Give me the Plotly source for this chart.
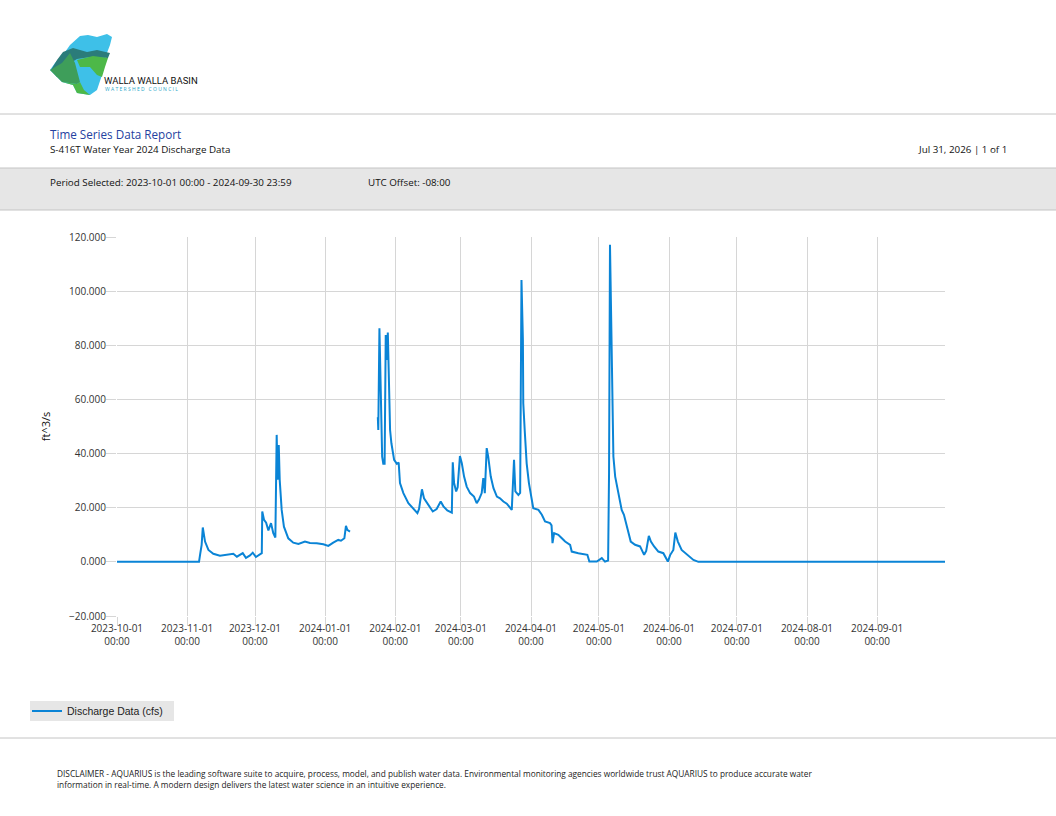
import pandas as pd
import plotly.graph_objects as go

# discharge series (ft^3/s); None marks the data gap
times = [
    "2023-10-01 00:00", "2023-11-06 06:00", "2023-11-06 17:00", "2023-11-07 10:00",
    "2023-11-07 22:00", "2023-11-08 22:00", "2023-11-10 10:00", "2023-11-12 14:00",
    "2023-11-15 12:00", "2023-11-18 05:00", "2023-11-21 10:00", "2023-11-23 00:00",
    "2023-11-25 14:00", "2023-11-27 00:00", "2023-11-28 19:00", "2023-11-30 00:00",
    "2023-12-01 10:00", "2023-12-04 00:00", "2023-12-04 05:00", "2023-12-05 00:00",
    "2023-12-05 22:00", "2023-12-06 22:00", "2023-12-08 02:00", "2023-12-09 02:00",
    "2023-12-10 00:00", "2023-12-10 14:00", "2023-12-11 00:00", "2023-12-11 12:00",
    "2023-12-11 22:00", "2023-12-12 19:00", "2023-12-13 19:00", "2023-12-15 17:00",
    "2023-12-17 22:00", "2023-12-20 05:00", "2023-12-23 02:00", "2023-12-25 07:00",
    "2023-12-28 07:00", "2023-12-31 05:00", "2024-01-02 10:00", "2024-01-04 14:00",
    "2024-01-06 19:00", "2024-01-08 00:00", "2024-01-09 12:00", "2024-01-10 05:00",
    "2024-01-10 19:00", "2024-01-12 00:00", "2024-01-18 00:00",
    "2024-01-24 07:00", "2024-01-24 12:00", "2024-01-25 00:00", "2024-01-25 14:00",
    "2024-01-26 05:00", "2024-01-26 17:00", "2024-01-27 07:00", "2024-01-27 19:00",
    "2024-01-28 05:00", "2024-01-28 17:00", "2024-01-29 00:00", "2024-01-29 10:00",
    "2024-01-29 17:00", "2024-01-30 07:00", "2024-01-31 12:00", "2024-02-01 17:00",
    "2024-02-02 12:00", "2024-02-03 02:00", "2024-02-04 14:00", "2024-02-06 19:00",
    "2024-02-09 00:00", "2024-02-10 19:00", "2024-02-11 12:00", "2024-02-12 19:00",
    "2024-02-13 17:00", "2024-02-15 14:00", "2024-02-17 14:00", "2024-02-19 07:00",
    "2024-02-21 02:00", "2024-02-22 07:00", "2024-02-24 00:00", "2024-02-26 00:00",
    "2024-02-26 10:00", "2024-02-27 00:00", "2024-02-27 22:00", "2024-02-28 14:00",
    "2024-02-29 14:00", "2024-03-01 10:00", "2024-03-02 10:00", "2024-03-03 14:00",
    "2024-03-05 02:00", "2024-03-06 19:00", "2024-03-08 00:00", "2024-03-09 00:00",
    "2024-03-10 05:00", "2024-03-10 22:00", "2024-03-11 14:00", "2024-03-12 10:00",
    "2024-03-13 02:00", "2024-03-14 05:00", "2024-03-15 10:00", "2024-03-16 22:00",
    "2024-03-18 07:00", "2024-03-19 19:00", "2024-03-21 07:00", "2024-03-23 12:00",
    "2024-03-24 12:00", "2024-03-25 02:00", "2024-03-26 10:00", "2024-03-27 05:00",
    "2024-03-27 19:00", "2024-03-28 10:00", "2024-03-28 14:00", "2024-03-29 05:00",
    "2024-03-30 02:00", "2024-03-31 02:00", "2024-04-01 07:00", "2024-04-02 00:00",
    "2024-04-04 07:00", "2024-04-05 19:00", "2024-04-07 05:00", "2024-04-09 10:00",
    "2024-04-10 02:00", "2024-04-10 12:00", "2024-04-11 05:00", "2024-04-13 02:00",
    "2024-04-14 07:00", "2024-04-16 02:00", "2024-04-18 07:00", "2024-04-19 00:00",
    "2024-04-21 22:00", "2024-04-25 22:00", "2024-04-26 19:00", "2024-04-30 02:00",
    "2024-05-02 07:00", "2024-05-03 17:00", "2024-05-05 02:00", "2024-05-05 12:00",
    "2024-05-05 22:00", "2024-05-06 10:00", "2024-05-06 17:00", "2024-05-07 00:00",
    "2024-05-07 10:00", "2024-05-08 05:00", "2024-05-09 14:00", "2024-05-11 02:00",
    "2024-05-12 02:00", "2024-05-13 07:00", "2024-05-15 02:00", "2024-05-17 00:00",
    "2024-05-19 05:00", "2024-05-21 00:00", "2024-05-21 22:00", "2024-05-23 02:00",
    "2024-05-24 00:00", "2024-05-25 10:00", "2024-05-27 07:00", "2024-05-29 12:00",
    "2024-05-31 12:00", "2024-06-01 12:00", "2024-06-02 22:00", "2024-06-03 19:00",
    "2024-06-04 22:00", "2024-06-06 14:00", "2024-06-08 22:00", "2024-06-11 19:00",
    "2024-06-14 00:00", "2024-09-30 23:59",
]
discharge = [
    0.0, 0.0, 2.6, 6.3,
    12.7, 7.5, 4.4, 3.0,
    2.3, 2.6, 3.0, 1.9,
    3.2, 1.5, 2.4, 3.4,
    1.8, 3.2, 18.6, 15.5,
    14.5, 11.6, 14.3, 10.6,
    9.0, 46.9, 30.3, 43.2,
    30.3, 19.2, 13.0, 8.7,
    7.1, 6.6, 7.5, 7.0,
    6.9, 6.5, 5.9, 7.1,
    8.1, 7.8, 8.7, 13.3,
    11.8, 11.2, None,
    53.4, 48.7, 86.3, 56.1,
    38.9, 36.2, 36.2, 83.8,
    74.6, 84.7, 74.0, 63.5,
    48.7, 43.8, 37.7, 36.2,
    36.7, 29.1, 25.4, 21.7,
    19.8, 18.0, 19.5, 26.8,
    23.5, 21.0, 18.6, 19.5,
    22.3, 20.5, 19.0, 18.2,
    36.8, 29.1, 26.0, 27.5,
    39.1, 36.4, 31.5, 27.8,
    25.4, 24.1, 21.7, 23.0,
    25.4, 30.9, 25.4, 42.0,
    38.9, 31.5, 27.2, 24.1,
    23.5, 22.3, 21.5, 19.2,
    37.7, 26.0, 24.7, 25.5,
    104.1, 82.0, 58.6, 48.7,
    36.4, 29.1, 24.1, 19.8,
    19.2, 17.4, 14.9, 14.3,
    13.5, 6.9, 10.6, 10.0,
    9.0, 7.5, 6.3, 3.8,
    3.2, 2.6, 0.1, 0.1,
    1.4, 0.1, 0.5, 32.8,
    117.1, 91.8, 69.7, 51.2,
    38.9, 31.5, 25.4, 19.2,
    17.4, 13.0, 7.5, 6.3,
    5.7, 2.6, 4.0, 9.6,
    7.5, 5.7, 3.8, 3.2,
    0.1, 2.5, 4.4, 10.8,
    7.5, 4.4, 2.6, 0.7,
    0.0, 0.0,
]

x_ticks = [
    "2023-10-01", "2023-11-01", "2023-12-01", "2024-01-01", "2024-02-01", "2024-03-01",
    "2024-04-01", "2024-05-01", "2024-06-01", "2024-07-01", "2024-08-01", "2024-09-01",
]
y_ticks = [-20, 0, 20, 40, 60, 80, 100, 120]

# plot area in page pixels, used to place the report furniture
L, R, T, B = 117, 945, 237, 616
W, H = 1056, 816


def px(x):
    return (x - L) / (R - L)


def py(y):
    return (B - y) / (B - T)


def path(points):
    s = "M " + " L ".join(f"{px(x):.5f},{py(y):.5f}" for x, y in points)
    return s + " Z"


fig = go.Figure(
    go.Scatter(
        x=pd.to_datetime(times),
        y=discharge,
        mode="lines",
        name="Discharge Data (cfs)",
        line=dict(color="#0A84D6", width=2),
        connectgaps=False,
    )
)

shapes = []
# header separators and grey band
shapes.append(dict(type="line", xref="paper", yref="paper", x0=px(0), x1=px(W),
                   y0=py(114), y1=py(114), line=dict(color="#C4C4C4", width=1)))
shapes.append(dict(type="rect", xref="paper", yref="paper", x0=px(0), x1=px(W),
                   y0=py(210), y1=py(168), fillcolor="#E6E6E6",
                   line=dict(width=0), layer="below"))
for yy in (168, 210):
    shapes.append(dict(type="line", xref="paper", yref="paper", x0=px(0), x1=px(W),
                       y0=py(yy), y1=py(yy), line=dict(color="#C4C4C4", width=1)))
shapes.append(dict(type="line", xref="paper", yref="paper", x0=px(0), x1=px(W),
                   y0=py(738), y1=py(738), line=dict(color="#C4C4C4", width=1)))
# legend box
shapes.append(dict(type="rect", xref="paper", yref="paper", x0=px(30), x1=px(174),
                   y0=py(721), y1=py(701), fillcolor="#E6E6E6",
                   line=dict(width=0), layer="below"))

# rough logo
logo = [
    ("#3EC0E8", [(80, 36), (88, 35), (97, 37), (107, 34), (112, 37), (110, 45), (105, 58),
                 (102, 75), (97, 90), (90, 95), (77, 93), (73, 85), (62, 82), (50, 70),
                 (55, 63), (63, 55), (70, 45)]),
    ("#2B7C7A", [(63, 52), (73, 48), (87, 52), (97, 50), (110, 53), (108, 58), (90, 57),
                 (77, 59), (67, 65), (57, 77), (51, 70), (57, 60)]),
    ("#4DB848", [(77, 60), (93, 56), (108, 58), (105, 67), (102, 77), (97, 75), (90, 67),
                 (80, 67)]),
    ("#3E9E5A", [(50, 70), (62, 63), (70, 53), (75, 63), (80, 82), (77, 84), (62, 82)]),
    ("#4DB848", [(62, 82), (77, 84), (80, 82), (84, 90), (90, 95), (77, 93), (73, 85)]),
]
for colour, pts in logo:
    shapes.append(dict(type="path", xref="paper", yref="paper", path=path(pts),
                       fillcolor=colour, line=dict(width=0)))

base_font = "Open Sans, Noto Sans, sans-serif"
annotations = [
    dict(text="WALLA WALLA BASIN", x=px(102), y=py(80), xanchor="left",
         font=dict(family="Liberation Sans Narrow, Roboto, sans-serif", size=9.5, color="#111111")),
    dict(text="W A T E R S H E D   C O U N C I L", x=px(103), y=py(89), xanchor="left",
         font=dict(family=base_font, size=5, color="#2AA7C9")),
    dict(text="Time Series Data Report", x=px(48), y=py(134), xanchor="left",
         font=dict(family=base_font, size=11.7, color="#2541A0")),
    dict(text="S-416T Water Year 2024 Discharge Data", x=px(48), y=py(149), xanchor="left",
         font=dict(family=base_font, size=9.8, color="#111111")),
    dict(text="Jul 31, 2026 | 1 of 1", x=px(1009), y=py(149), xanchor="right",
         font=dict(family=base_font, size=9.8, color="#111111")),
    dict(text="Period Selected: 2023-10-01 00:00 - 2024-09-30 23:59", x=px(48), y=py(182),
         xanchor="left", font=dict(family=base_font, size=9.8, color="#111111")),
    dict(text="UTC Offset: -08:00", x=px(366), y=py(182), xanchor="left",
         font=dict(family=base_font, size=9.8, color="#111111")),
    dict(text="DISCLAIMER - AQUARIUS is the leading software suite to acquire, process, model, "
              "and publish water data. Environmental monitoring agencies worldwide trust AQUARIUS "
              "to produce accurate water<br>information in real-time. A modern design delivers "
              "the latest water science in an intuitive experience.",
         x=px(55), y=py(779), xanchor="left", align="left",
         font=dict(family=base_font, size=8.3, color="#222222")),
]
for a in annotations:
    a.update(xref="paper", yref="paper", yanchor="middle", showarrow=False)

fig.update_layout(
    width=W,
    height=H,
    autosize=False,
    margin=dict(l=L, r=W - R, t=T, b=H - B, pad=0),
    paper_bgcolor="white",
    plot_bgcolor="white",
    font=dict(family=base_font, size=10, color="#333333"),
    showlegend=True,
    legend=dict(
        x=px(27), y=py(711), xanchor="left", yanchor="middle",
        bgcolor="rgba(0,0,0,0)",
        font=dict(family="Liberation Sans, Arial, sans-serif", size=10.5, color="#222222"),
    ),
    shapes=shapes,
    annotations=annotations,
)

fig.update_xaxes(
    type="date",
    range=["2023-10-01 00:00", "2024-09-30 23:59"],
    tickvals=x_ticks,
    tickformat="%Y-%m-%d<br>%H:%M",
    showgrid=True,
    gridcolor="#D6D6D6",
    ticks="outside",
    ticklen=9,
    tickcolor="#D6D6D6",
    ticklabelstandoff=-6,
    showline=False,
    zeroline=False,
    tickfont=dict(size=10, color="#333333"),
)
fig.update_yaxes(
    range=[-20, 120],
    tickvals=y_ticks,
    tickformat=".3f",
    showgrid=True,
    gridcolor="#D6D6D6",
    ticks="outside",
    ticklen=10,
    tickcolor="#D6D6D6",
    ticklabelstandoff=-2,
    showline=False,
    zeroline=False,
    tickfont=dict(size=10, color="#333333"),
    title=dict(text="ft^3/s", font=dict(size=11, color="#111111"), standoff=16),
)

fig.write_html(
    "out.html",
    config={"displayModeBar": False},
    post_script="document.body.style.margin='0';",
)
